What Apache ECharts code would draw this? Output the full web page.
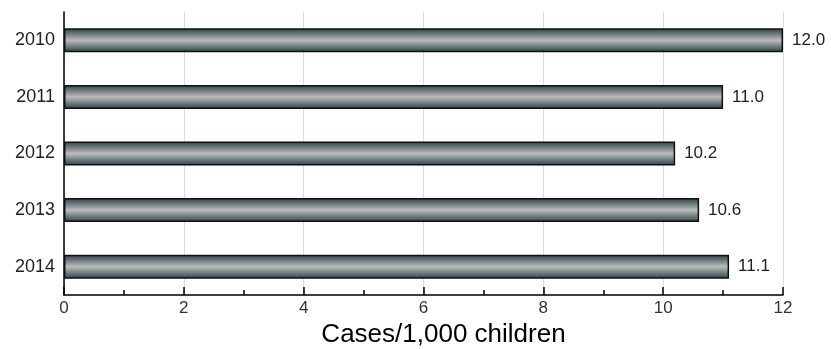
<!DOCTYPE html>
<html><head><meta charset="utf-8">
<script src="https://cdn.jsdelivr.net/npm/echarts@6/dist/echarts.min.js"></script>
<style>html,body{margin:0;padding:0;background:#fff}#c{width:831px;height:349px}</style>
</head><body><div id="c"></div>
<script>
var categories = ['2010','2011','2012','2013','2014'];
var values = [12.0, 11.0, 10.2, 10.6, 11.1];
var xTicks = [0, 2, 4, 6, 8, 10, 12];
var axisTitle = 'Cases/1,000 children';

var FONT = 'Liberation Sans, Arial, sans-serif';
var chart = echarts.init(document.getElementById('c'));
var grad = new echarts.graphic.LinearGradient(0,0,0,1,[
  {offset:0, color:'#2a4045'},
  {offset:0.5, color:'#bcbcbc'},
  {offset:1, color:'#2a4045'}
]);
chart.setOption({
  animation:false,
  grid:{left:64, right:48, top:12, bottom:54, containLabel:false, outerBoundsMode:'none'},
  xAxis:{
    type:'value', min:xTicks[0], max:xTicks[xTicks.length-1], interval:2,
    name:axisTitle, nameLocation:'middle', nameGap:24,
    nameTextStyle:{fontFamily:FONT, fontSize:26, color:'#000', padding:[0,0,0,40]},
    axisLine:{show:true, lineStyle:{color:'#000', width:1.5}},
    axisTick:{show:true, inside:true, length:8, lineStyle:{color:'#000', width:1.5}},
    minorTick:{show:true, splitNumber:2, length:5, lineStyle:{color:'#000', width:1.5}},
    axisLabel:{fontFamily:FONT, fontSize:17, color:'#333', margin:5},
    splitLine:{show:true, lineStyle:{color:'#dcdcdc', width:1}}
  },
  yAxis:{
    type:'category', data:categories, inverse:true,
    axisLine:{show:true, lineStyle:{color:'#000', width:1.5}},
    axisTick:{show:false},
    axisLabel:{fontFamily:FONT, fontSize:18, color:'#222', margin:9}
  },
  series:[{
    type:'bar', data:values, barWidth:24,
    itemStyle:{color:grad, borderColor:'#111', borderWidth:1.5},
    label:{show:true, position:'right', distance:9, fontFamily:FONT, fontSize:17, color:'#222',
      formatter:function(p){return p.value.toFixed(1);}}
  }]
});
</script></body></html>
